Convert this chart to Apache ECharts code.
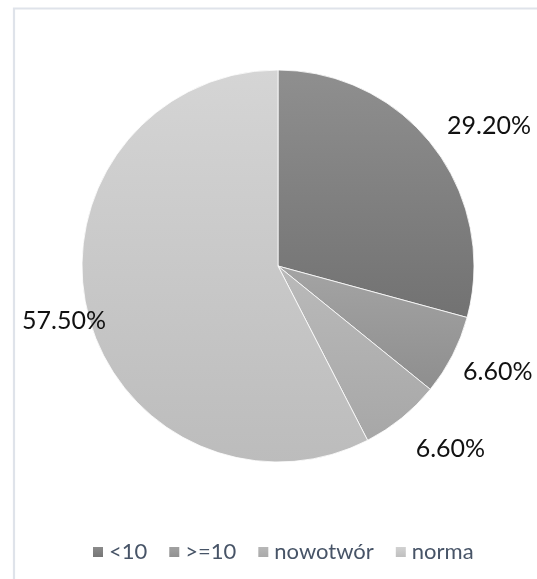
<!DOCTYPE html>
<html>
<head>
<meta charset="utf-8">
<script src="https://cdn.jsdelivr.net/npm/echarts@6/dist/echarts.min.js"></script>
<style>
  html, body { margin: 0; padding: 0; background: #ffffff; }
  #chart { width: 537px; height: 579px; }
</style>
</head>
<body>
<div id="chart"></div>
<script>
// Share of cases per group
const categories = ['<10', '>=10', 'nowotwór', 'norma'];
const shares = [29.2, 6.6, 6.6, 57.5];

// Grey gradient fills, one per slice (top -> bottom)
const fillTop = ['#8f8f8f', '#a4a4a4', '#bababa', '#d5d5d5'];
const fillBottom = ['#727272', '#8e8e8e', '#a7a7a7', '#bcbcbc'];

// Pie geometry
const CX = 278, CY = 266, R = 196;
// Label placement: radial distance plus small nudges per label
const labelDist = 248;
const labelNudge = [[14, 11], [-1, -7], [16, -10], [27, -3]];

const total = shares.reduce((a, b) => a + b, 0);
const midAngles = [];
let acc = 0;
shares.forEach(v => {
  midAngles.push((acc + v / 2) / total * 2 * Math.PI);
  acc += v;
});

const chart = echarts.init(document.getElementById('chart'), null, { renderer: 'canvas' });

const data = categories.map((name, i) => ({
  name: name,
  value: shares[i],
  itemStyle: {
    color: new echarts.graphic.LinearGradient(0, 0, 0, 1, [
      { offset: 0, color: fillTop[i] },
      { offset: 1, color: fillBottom[i] }
    ])
  }
}));

chart.setOption({
  animation: false,
  backgroundColor: '#ffffff',
  graphic: [{
    type: 'rect',
    shape: { x: 14, y: 8.5, width: 700, height: 700 },
    style: { fill: 'none', stroke: '#dfe3ea', lineWidth: 2.2 },
    silent: true,
    z: -10
  }],
  legend: {
    data: categories,
    left: 86,
    top: 534,
    icon: 'rect',
    itemWidth: 12,
    itemHeight: 12,
    itemGap: 20,
    textStyle: {
      fontFamily: 'Lato',
      fontSize: 22,
      lineHeight: 26,
      color: '#475467'
    }
  },
  series: [{
    type: 'pie',
    center: [CX, CY],
    radius: R,
    startAngle: 90,
    clockwise: true,
    avoidLabelOverlap: false,
    data: data,
    itemStyle: { borderColor: '#ffffff', borderWidth: 0.8 },
    label: {
      show: true,
      position: 'outside',
      formatter: p => p.value.toFixed(2) + '%',
      fontFamily: 'Lato',
      fontSize: 25,
      color: '#111111'
    },
    labelLine: { show: false },
    labelLayout: function (params) {
      const i = params.dataIndex;
      const a = midAngles[i];
      return {
        x: CX + labelDist * Math.sin(a) + labelNudge[i][0],
        y: CY - labelDist * Math.cos(a) + labelNudge[i][1],
        align: 'center',
        verticalAlign: 'middle'
      };
    },
    emphasis: { disabled: true }
  }]
});
</script>
</body>
</html>
